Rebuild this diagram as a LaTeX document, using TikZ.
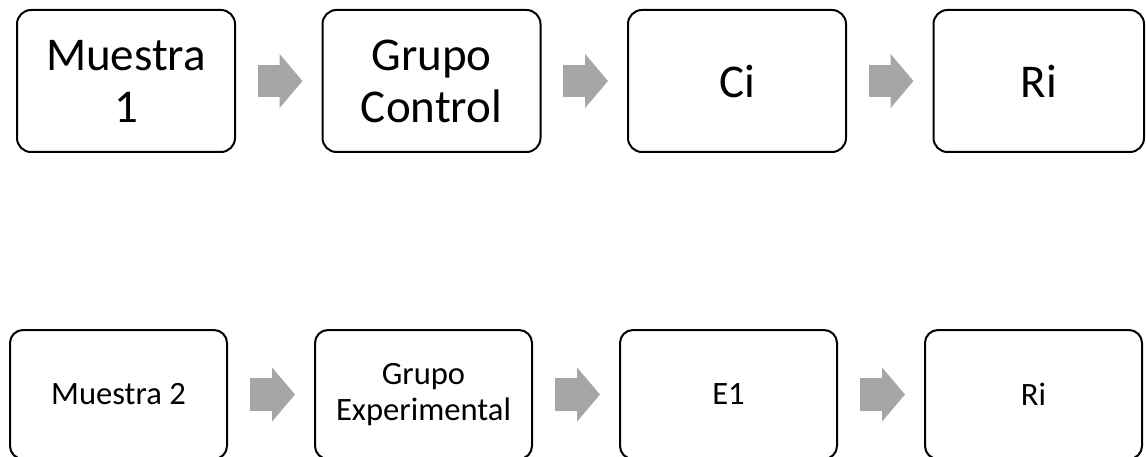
\documentclass[tikz,border=0pt]{standalone}
\usepackage{fontspec}
\setmainfont{Carlito}
\usetikzlibrary{arrows.meta, positioning}
\definecolor{arrowgray}{RGB}{166,166,166}
\tikzset{
    big style/.style={draw, rectangle, rounded corners=14pt, line width=2pt, outer sep=0pt, minimum width=218pt, minimum height=142pt, align=center, font=\fontsize{47}{52}\selectfont},
    small style/.style={draw, rectangle, rounded corners=13pt, line width=2pt, outer sep=0pt, minimum width=217pt, minimum height=129pt, align=center, font=\fontsize{32.6}{35.8}\selectfont},
    arrow style/.style={-{Triangle[length=23pt, width=53pt]}, line width=32.7pt, draw=arrowgray, shorten <=22.5pt, shorten >=20pt},
}

\begin{document}
\begin{tikzpicture}[x=1pt, y=1pt, node distance=87.5pt]
        \useasboundingbox (0,0) rectangle (1146,-457);
        \node (muestra1) [big style] at (126,-81) {Muestra\\1};
        \node (control) [big style, right=of muestra1] {Grupo\\Control};
        \node (ci) [big style, right=of control] {Ci};
        \node (ri1) [big style, right=of ci, minimum width=210.5pt] {Ri};

        \node (muestra2) [small style] at (118.5,-394.5) {Muestra 2};
        \node (experimental) [small style, right=88pt of muestra2] {Grupo\\Experimental};
        \node (e1) [small style, right=88pt of experimental] {E1};
        \node (ri2) [small style, right=88pt of e1] {Ri};

        \draw [arrow style] (muestra1) -- (control);
        \draw [arrow style] (control) -- (ci);
        \draw [arrow style] (ci) -- (ri1);
        \draw [arrow style] (muestra2) -- (experimental);
        \draw [arrow style] (experimental) -- (e1);
        \draw [arrow style] (e1) -- (ri2);
    \end{tikzpicture}
\end{document}
